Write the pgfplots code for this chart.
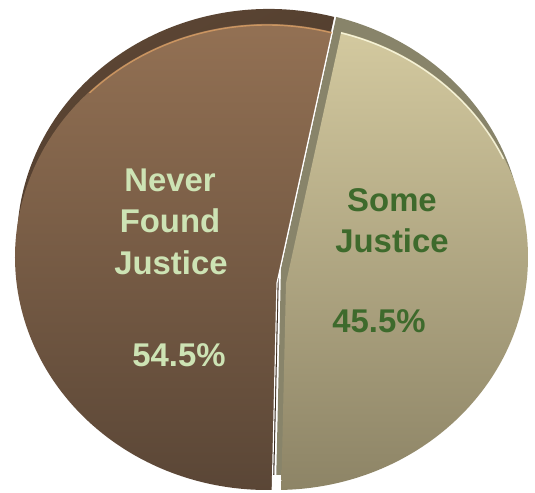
\documentclass[border=0pt]{standalone}
\usepackage{pgfplots}
\pgfplotsset{compat=1.18}
\usepackage{pgfplotstable}
\usetikzlibrary{calc}
\usepackage{fontspec}
\setmainfont{Liberation Sans}

\definecolor{brownT}{HTML}{967355}
\definecolor{brownB}{HTML}{5A4636}
\definecolor{brownD1}{HTML}{3C2E22}
\definecolor{brownD2}{HTML}{5E4735}
\definecolor{khakiT}{HTML}{D3C99F}
\definecolor{khakiB}{HTML}{8D8466}
\definecolor{khakiD}{HTML}{88846A}
\definecolor{paleGreen}{HTML}{CDE3B4}
\definecolor{darkGreen}{HTML}{3E6A2C}

\pgfplotstableread{
label value
Never 54.5
Some 45.5
}\piedata

\begin{document}
\begin{tikzpicture}
\pgfplotstablegetelem{0}{value}\of\piedata \let\vA\pgfplotsretval
\pgfplotstablegetelem{1}{value}\of\piedata \let\vB\pgfplotsretval
\pgfmathsetmacro\aS{75}
\pgfmathsetmacro\aM{\aS+3.6*\vA}
\pgfmathsetmacro\aE{\aM+3.6*\vB}
\begin{axis}[width=535bp,height=493bp,scale only axis,
  xmin=0,xmax=535,ymin=0,ymax=493,hide axis,clip=false]
\coordinate (ll) at (axis cs:0,0);
\coordinate (ur) at (axis cs:535,493);
% khaki depth (side)
\fill[khakiD] (axis cs:281,225) -- ($(axis cs:271,251)+(\aM:252bp and 233bp)$)
  arc[start angle=\aM, end angle=\aE, x radius=252bp, y radius=233bp] -- cycle;
% brown depth (side)
\shade[top color=brownD2, bottom color=brownD1, shading angle=30] (axis cs:279,225) -- ($(axis cs:269,251)+(\aS:252bp and 233bp)$)
  arc[start angle=\aS, end angle=\aM, x radius=252bp, y radius=233bp] -- cycle;
% brown face
\shade[top color=brownT, bottom color=brownB] (axis cs:277,210) -- ($(axis cs:267,236)+(\aS:252bp and 233bp)$)
  arc[start angle=\aS, end angle=\aM, x radius=252bp, y radius=233bp] -- cycle;
\draw[color=white, line width=1.2bp] ($(axis cs:267,236)+(\aM:252bp and 233bp)$) -- (axis cs:277,210) -- ($(axis cs:267,236)+(\aS:252bp and 233bp)$);
\draw[color=brown!60!orange!70!white, line width=1.4bp, opacity=0.7] ($(axis cs:267,236)+(\aS:251bp and 232bp)$)
  arc[start angle=\aS, end angle=135, x radius=251bp, y radius=232bp];
% khaki face
\shade[top color=khakiT, bottom color=khakiB] (axis cs:286,210) -- ($(axis cs:276,236)+(\aM:252bp and 233bp)$)
  arc[start angle=\aM, end angle=\aE, x radius=252bp, y radius=233bp] -- cycle;
\draw[color=white!90!yellow, line width=1.4bp, opacity=0.8] ($(axis cs:276,236)+(\aS:251bp and 232bp)$)
  arc[start angle=\aS, end angle=25, x radius=251bp, y radius=232bp];
% labels
\begin{scope}[every node/.style={anchor=base, font=\fontsize{33}{40}\selectfont\bfseries}]
\node[text=paleGreen] at (axis cs:170,301) {Never};
\node[text=paleGreen] at (axis cs:170,260) {Found};
\node[text=paleGreen] at (axis cs:171,218) {Justice};
\node[text=paleGreen] at (axis cs:179,126) {54.5\%};
\node[text=darkGreen] at (axis cs:392,281) {Some};
\node[text=darkGreen] at (axis cs:392,240) {Justice};
\node[text=darkGreen] at (axis cs:379,160) {45.5\%};
\end{scope}
\end{axis}
\pgfresetboundingbox
\path[use as bounding box] (ll) rectangle (ur);
\end{tikzpicture}
\end{document}
